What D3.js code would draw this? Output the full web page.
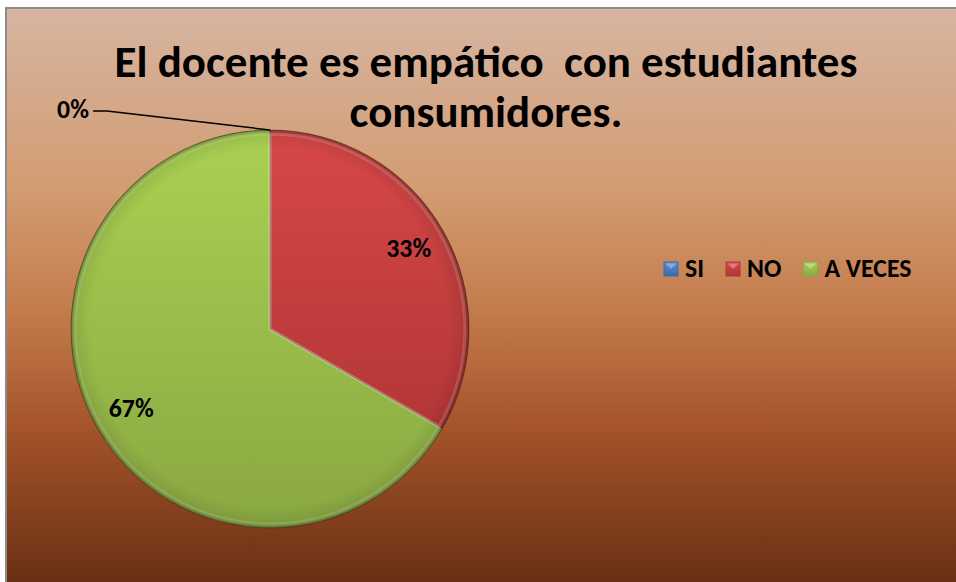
<!DOCTYPE html>
<html lang="es">
<head>
<meta charset="UTF-8">
<title>El docente es empático con estudiantes consumidores.</title>
<script src="https://d3js.org/d3.v7.min.js"></script>
<style>
    body { margin: 0; background: #fff; overflow: hidden; }
    svg { display: block; font-family: Carlito, Calibri, "Open Sans", Lato, sans-serif; }
</style>
</head>
<body>
<div id="chart"></div>
<script>
    // datos
    const categorias = ["SI", "NO", "A VECES"];
    const valores = [0, 1, 2];
    const etiquetas = ["0%", "33%", "67%"];
    const titulo = ["El docente es empático  con estudiantes", "consumidores."];

    const W = 956, H = 582;
    const cx = 270, cy = 329, R = 199;

    const colores = {
        "SI":      ["#5b8fd0", "#3a6aa8"],
        "NO":      ["#d84848", "#b33636"],
        "A VECES": ["#a9d152", "#89a842"]
    };

    // ajusta el tamaño de letra para que el texto ocupe el ancho dado
    function ajustar(sel, ancho) {
        const fs = +sel.attr("font-size");
        const len = sel.node().getComputedTextLength();
        const nuevo = fs * ancho / len;
        sel.attr("font-size", nuevo);
        return nuevo;
    }

    const svg = d3.select("#chart").append("svg")
        .attr("width", W)
        .attr("height", H);

    const defs = svg.append("defs");

    // fondo
    const bg = defs.append("linearGradient")
        .attr("id", "bg").attr("x1", 0).attr("y1", 0).attr("x2", 0).attr("y2", 1);
    [[0, "#d6b5a1"], [0.3, "#d39c72"], [0.5, "#c47c4c"], [0.7, "#a4532a"], [1, "#5f2a0f"]]
        .forEach(([o, c]) => bg.append("stop").attr("offset", o).attr("stop-color", c));

    svg.append("rect")
        .attr("x", 6).attr("y", 8)
        .attr("width", W + 20).attr("height", H + 20)
        .attr("fill", "url(#bg)")
        .attr("stroke", "#8c8c8c")
        .attr("stroke-width", 2);

    // gradientes de las porciones
    categorias.forEach((c, i) => {
        const g = defs.append("linearGradient")
            .attr("id", "g" + i).attr("x1", 0).attr("y1", 0).attr("x2", 0).attr("y2", 1);
        g.append("stop").attr("offset", 0).attr("stop-color", colores[c][0]);
        g.append("stop").attr("offset", 1).attr("stop-color", colores[c][1]);
    });

    const bevel = defs.append("radialGradient").attr("id", "bevel");
    bevel.append("stop").attr("offset", 0.9).attr("stop-color", "#000").attr("stop-opacity", 0);
    bevel.append("stop").attr("offset", 0.975).attr("stop-color", "#000").attr("stop-opacity", 0.08);
    bevel.append("stop").attr("offset", 1).attr("stop-color", "#000").attr("stop-opacity", 0.3);

    // titulo
    const tituloG = svg.append("g").attr("font-weight", "bold").attr("fill", "#000");
    const t1 = tituloG.append("text")
        .attr("x", 486).attr("y", 77)
        .attr("text-anchor", "middle")
        .attr("font-size", 40)
        .style("white-space", "pre")
        .text(titulo[0]);
    const fs = ajustar(t1, 743);
    tituloG.append("text")
        .attr("x", 486).attr("y", 127)
        .attr("text-anchor", "middle")
        .attr("font-size", fs)
        .text(titulo[1]);

    // pastel
    const pie = d3.pie().sort(null).value(d => d)(valores);
    const arc = d3.arc().innerRadius(0).outerRadius(R);
    const arcEtiqueta = d3.arc().innerRadius(R * 0.805).outerRadius(R * 0.805);

    const g = svg.append("g").attr("transform", `translate(${cx},${cy})`);

    g.selectAll("path.slice")
        .data(pie)
        .enter()
        .append("path")
        .attr("class", "slice")
        .attr("d", arc)
        .attr("fill", (d, i) => `url(#g${i})`)
        .attr("stroke", "rgba(60,40,20,0.55)")
        .attr("stroke-width", 1);

    // brillo interior de los bordes
    g.selectAll("path.hl")
        .data(pie.filter(d => d.value > 0))
        .enter()
        .append("path")
        .attr("class", "hl")
        .attr("d", d3.arc().innerRadius(0).outerRadius(R - 4))
        .attr("fill", "none")
        .attr("stroke", "rgba(255,255,255,0.18)")
        .attr("stroke-width", 3);

    g.append("circle")
        .attr("r", R)
        .attr("fill", "url(#bevel)")
        .attr("pointer-events", "none");

    // etiquetas de datos
    const lab = svg.append("g")
        .attr("font-weight", "bold")
        .attr("fill", "#000");

    let fsLab = null;
    pie.forEach((d, i) => {
        if (d.value > 0) {
            const [x, y] = arcEtiqueta.centroid(d);
            const t = lab.append("text")
                .attr("x", cx + x).attr("y", cy + y + 8)
                .attr("text-anchor", "middle")
                .attr("font-size", 20)
                .text(etiquetas[i]);
            if (fsLab === null) fsLab = ajustar(t, 45);
            else t.attr("font-size", fsLab);
        }
    });
    pie.forEach((d, i) => {
        if (d.value === 0) {
            // porcion vacia: etiqueta fuera con linea guia
            const a = d.startAngle;
            const px = cx + R * Math.sin(a), py = cy - R * Math.cos(a);
            const lx = px - 163, ly = py - 19;
            lab.append("path")
                .attr("d", `M${px},${py}L${lx},${ly}L${lx - 14},${ly}`)
                .attr("fill", "none")
                .attr("stroke", "#000")
                .attr("stroke-width", 1.5);
            lab.append("text")
                .attr("x", lx - 18).attr("y", ly + 7)
                .attr("text-anchor", "end")
                .attr("font-size", fsLab)
                .text(etiquetas[i]);
        }
    });

    // leyenda
    const ley = svg.append("g")
        .attr("font-weight", "bold")
        .attr("fill", "#000");
    const prueba = ley.append("text").attr("font-size", 20).text(categorias[2]);
    const fsLey = ajustar(prueba, 87);
    prueba.remove();
    ley.attr("font-size", fsLey);

    let lxPos = 664;
    const ly0 = 262, sz = 14;
    categorias.forEach((c, i) => {
        const it = ley.append("g").attr("transform", `translate(${lxPos},${ly0})`);
        it.append("rect")
            .attr("width", sz).attr("height", sz)
            .attr("fill", `url(#g${i})`)
            .attr("stroke", colores[c][1])
            .attr("stroke-width", 1);
        it.append("path")
            .attr("d", `M1.5,1.5L${sz - 1.5},1.5L${sz / 2},${sz / 2}Z`)
            .attr("fill", "rgba(255,255,255,0.3)");
        const tx = it.append("text")
            .attr("x", sz + 7).attr("y", sz + 1)
            .text(c);
        lxPos += sz + 7 + tx.node().getComputedTextLength() + 22;
    });
</script>
</body>
</html>
